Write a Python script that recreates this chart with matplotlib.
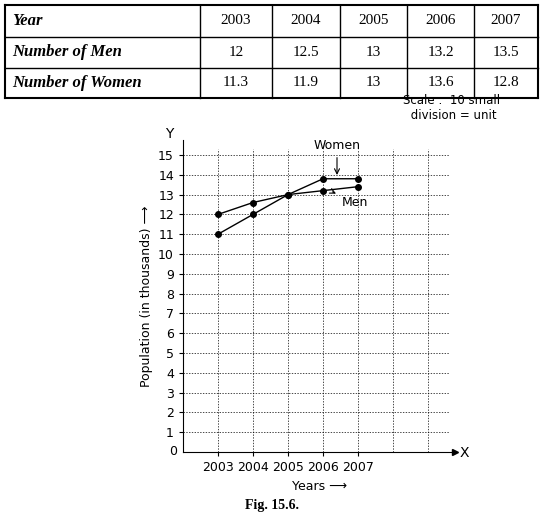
import matplotlib
matplotlib.use("Agg")
import matplotlib.pyplot as plt

years = [2003, 2004, 2005, 2006, 2007]
table_men = ["12", "12.5", "13", "13.2", "13.5"]
table_women = ["11.3", "11.9", "13", "13.6", "12.8"]
men = [12, 12.6, 13, 13.2, 13.4]
women = [11, 12, 13, 13.8, 13.8]

W, H = 544, 519
fig = plt.figure(figsize=(W/100, H/100), dpi=100)
bg = fig.add_axes([0, 0, 1, 1])
bg.set_xlim(0, W); bg.set_ylim(H, 0); bg.axis("off")

# table
cols = [5, 200, 272, 340, 407, 474, 538]
rows = [5, 37, 68, 98]
for x in cols:
    bg.plot([x, x], [rows[0], rows[-1]], color="k", lw=1.5 if x in (5, 538) else 1)
for y in rows:
    bg.plot([cols[0], cols[-1]], [y, y], color="k", lw=1.5 if y in (5, 98) else 1)
labels = ["Year", "Number of Men", "Number of Women"]
data = [[str(y) for y in years], table_men, table_women]
for r in range(3):
    yc = (rows[r] + rows[r+1]) / 2
    bg.text(12, yc, labels[r], ha="left", va="center", family="Liberation Serif",
            style="italic", weight="bold", fontsize=12)
    for c in range(5):
        xc = (cols[c+1] + cols[c+2]) / 2
        bg.text(xc, yc, data[r][c], ha="center", va="center", family="Liberation Serif", fontsize=11)

# graph
x0, x1, yb, yt = 183, 455, 452, 140
ax = fig.add_axes([x0/W, 1-yb/H, (x1-x0)/W, (yb-yt)/H])
ax.patch.set_alpha(0)
ax.set_xlim(2002, 2002 + (x1-x0)/35)
ax.set_ylim(0, (yb-yt)/19.8)
for s in ("top", "right"):
    ax.spines[s].set_visible(False)
for yy in range(1, 16):
    ax.plot([2002, 2009.6], [yy, yy], color="k", lw=0.5, ls=(0, (2, 2)))
for xx in range(2003, 2010):
    ax.plot([xx, xx], [0, 15.3], color="k", lw=0.5, ls=(0, (2, 2)))
ax.plot(years, men, "k-", marker="o", ms=4, lw=1)
ax.plot(years, women, "k-", marker="o", ms=4, lw=1)
ax.set_xticks(years)
ax.set_yticks(range(1, 16))
ax.tick_params(labelsize=9, length=3)
ax.plot(1, 0, ">k", transform=ax.get_yaxis_transform(), clip_on=False, ms=5)
ax.plot(0, 1, "^k", transform=ax.get_xaxis_transform(), clip_on=False, ms=5)
ax.text(2001.5, 15.85, "Y", fontsize=10, clip_on=False)
ax.text(2009.9, -0.25, "X", fontsize=10)
ax.text(2001.6, -0.15, "0", fontsize=9)
ax.set_xlabel("Years ⟶", fontsize=9)
ax.set_ylabel("Population (in thousands) ⟶", fontsize=9)
ax.annotate("Women", xy=(2006.4, 13.85), xytext=(2006.4, 15.3), ha="center", fontsize=9,
            arrowprops=dict(arrowstyle="->", color="k", lw=0.8))
ax.annotate("Men", xy=(2006.2, 13.2), xytext=(2006.9, 12.4), ha="center", fontsize=9,
            arrowprops=dict(arrowstyle="<-", color="k", lw=0.8))
bg.text(452, 108, "Scale :  10 small\n division = unit", ha="center", va="center", fontsize=8.5)
bg.text(272, 506, "Fig. 15.6.", ha="center", va="center", family="Liberation Serif",
        weight="bold", fontsize=10)

fig.savefig("out.png", dpi=100)
